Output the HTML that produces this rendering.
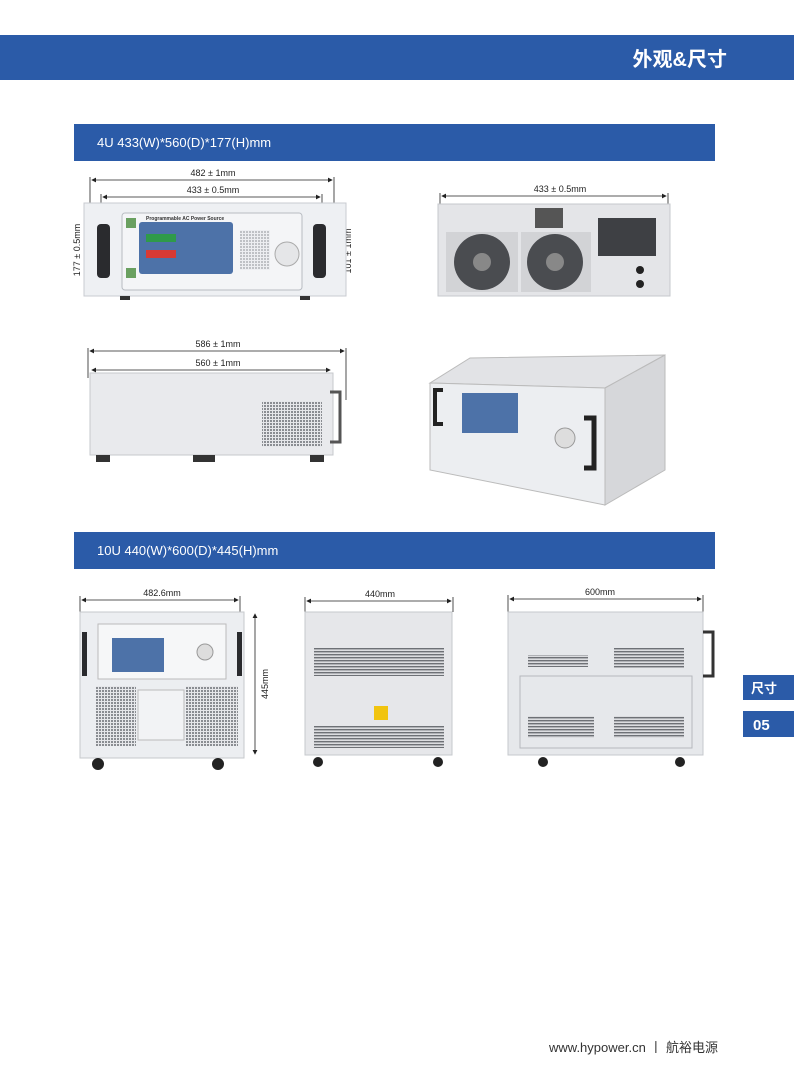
<!DOCTYPE html>
<html><head><meta charset="utf-8"><style>
html,body{margin:0;padding:0;background:#fff}
body{width:794px;height:1077px;position:relative;overflow:hidden;font-family:"Liberation Sans","Noto Sans CJK SC",sans-serif}
svg{position:absolute;left:0;top:0}
</style></head><body>
<svg width="794" height="1077" viewBox="0 0 794 1077" font-family="Liberation Sans, Noto Sans CJK SC, sans-serif">
<defs>
<marker id="a" markerWidth="6" markerHeight="6" refX="5" refY="3" orient="auto-start-reverse"><path d="M0,0 L6,3 L0,6 z" fill="#222"/></marker>
<pattern id="g" width="3" height="3" patternUnits="userSpaceOnUse"><rect width="3" height="3" fill="#e6e7ea"/><rect width="2" height="2" fill="#8a8d92"/></pattern>
<pattern id="h" width="4" height="3" patternUnits="userSpaceOnUse"><rect width="4" height="3" fill="#dcdde0"/><rect width="4" height="1.4" fill="#6e7176"/></pattern>
</defs>
<rect x="0" y="35" width="794" height="45" fill="#2b5ba8"/>
<text x="727" y="66" fill="#fff" font-size="20" font-weight="bold" text-anchor="end">外观&amp;尺寸</text>
<rect x="74" y="124" width="641" height="37" fill="#2b5ba8"/>
<text x="97" y="147" fill="#fff" font-size="13">4U 433(W)*560(D)*177(H)mm</text>
<rect x="74" y="532" width="641" height="37" fill="#2b5ba8"/>
<text x="97" y="555" fill="#fff" font-size="13">10U 440(W)*600(D)*445(H)mm</text>
<rect x="743" y="675" width="51" height="25" fill="#2b5ba8"/>
<text x="751" y="693" fill="#fff" font-size="13" font-weight="bold">尺寸</text>
<rect x="743" y="711" width="51" height="26" fill="#2b5ba8"/>
<text x="753" y="730" fill="#fff" font-size="15" font-weight="bold">05</text>
<text x="549" y="1052" fill="#333" font-size="13">www.hypower.cn  丨 航裕电源</text>

<g stroke="#222" stroke-width="0.8" fill="none">
<line x1="92" y1="180" x2="332" y2="180" marker-start="url(#a)" marker-end="url(#a)"/>
<line x1="103" y1="197" x2="320" y2="197" marker-start="url(#a)" marker-end="url(#a)"/>
<line x1="90" y1="177" x2="90" y2="203"/><line x1="334" y1="177" x2="334" y2="203"/>
<line x1="101" y1="194" x2="101" y2="215"/><line x1="322" y1="194" x2="322" y2="215"/>
<line x1="86" y1="206" x2="86" y2="292" marker-start="url(#a)" marker-end="url(#a)"/>
<line x1="338" y1="226" x2="338" y2="276" marker-start="url(#a)" marker-end="url(#a)"/>
<line x1="442" y1="196" x2="666" y2="196" marker-start="url(#a)" marker-end="url(#a)"/>
<line x1="440" y1="193" x2="440" y2="208"/><line x1="668" y1="193" x2="668" y2="208"/>
<line x1="90" y1="351" x2="344" y2="351" marker-start="url(#a)" marker-end="url(#a)"/>
<line x1="92" y1="370" x2="330" y2="370" marker-start="url(#a)" marker-end="url(#a)"/>
<line x1="88" y1="348" x2="88" y2="378"/><line x1="346" y1="348" x2="346" y2="400"/>
<line x1="82" y1="600" x2="238" y2="600" marker-start="url(#a)" marker-end="url(#a)"/>
<line x1="80" y1="596" x2="80" y2="612"/><line x1="240" y1="596" x2="240" y2="612"/>
<line x1="255" y1="614" x2="255" y2="754" marker-start="url(#a)" marker-end="url(#a)"/>
<line x1="307" y1="601" x2="451" y2="601" marker-start="url(#a)" marker-end="url(#a)"/>
<line x1="305" y1="597" x2="305" y2="612"/><line x1="453" y1="597" x2="453" y2="612"/>
<line x1="510" y1="599" x2="701" y2="599" marker-start="url(#a)" marker-end="url(#a)"/>
<line x1="508" y1="595" x2="508" y2="612"/><line x1="703" y1="595" x2="703" y2="612"/>
</g>
<g font-size="9" fill="#222" text-anchor="middle">
<text x="213" y="176">482 ± 1mm</text>
<text x="213" y="193">433 ± 0.5mm</text>
<text x="560" y="192">433 ± 0.5mm</text>
<text x="218" y="347">586 ± 1mm</text>
<text x="218" y="366">560 ± 1mm</text>
<text x="162" y="596">482.6mm</text>
<text x="380" y="597">440mm</text>
<text x="600" y="595">600mm</text>
<text transform="translate(80,250) rotate(-90)">177 ± 0.5mm</text>
<text transform="translate(351,251) rotate(-90)">101 ± 1mm</text>
<text transform="translate(268,684) rotate(-90)">445mm</text>
</g>

<rect x="84" y="203" width="262" height="93" fill="#eef0f3" stroke="#c8cbd0"/>
<rect x="97" y="224" width="13" height="54" rx="4" fill="#2a2b2e"/>
<rect x="313" y="224" width="13" height="54" rx="4" fill="#2a2b2e"/>
<rect x="122" y="213" width="180" height="77" rx="3" fill="#f4f5f7" stroke="#b8bcc2"/>
<rect x="139" y="222" width="94" height="52" rx="3" fill="#4d72a8"/>
<rect x="146" y="234" width="30" height="8" fill="#2f9a4a"/><rect x="146" y="250" width="30" height="8" fill="#d83a34"/>
<rect x="126" y="218" width="10" height="10" fill="#6aa060"/><rect x="126" y="268" width="10" height="10" fill="#6aa060"/>
<circle cx="287" cy="254" r="12" fill="#e5e6e8" stroke="#aaa"/>
<rect x="240" y="230" width="30" height="40" fill="url(#g)" opacity="0.5"/>
<text x="146" y="220" font-size="5" font-weight="bold" fill="#333">Programmable AC Power Source</text>
<rect x="120" y="296" width="10" height="4" fill="#333"/><rect x="300" y="296" width="10" height="4" fill="#333"/>

<rect x="438" y="204" width="232" height="92" fill="#e4e5e8" stroke="#c6c8cc"/>
<rect x="446" y="232" width="72" height="60" fill="#d2d3d6"/>
<rect x="521" y="232" width="70" height="60" fill="#d2d3d6"/>
<circle cx="482" cy="262" r="28" fill="#4a4c50"/><circle cx="482" cy="262" r="9" fill="#888"/>
<circle cx="555" cy="262" r="28" fill="#4a4c50"/><circle cx="555" cy="262" r="9" fill="#888"/>
<rect x="535" y="208" width="28" height="20" fill="#555"/>
<rect x="598" y="218" width="58" height="38" fill="#3e4044"/>
<circle cx="640" cy="270" r="4" fill="#222"/><circle cx="640" cy="284" r="4" fill="#222"/>

<rect x="90" y="373" width="243" height="82" fill="#e9eaed" stroke="#c6c8cc"/>
<rect x="262" y="401" width="60" height="46" fill="url(#g)"/>
<path d="M330,392 h10 v50 h-10" fill="none" stroke="#555" stroke-width="3"/>
<rect x="96" y="455" width="14" height="7" fill="#333"/><rect x="193" y="455" width="22" height="7" fill="#333"/><rect x="310" y="455" width="14" height="7" fill="#333"/>

<polygon points="430,383 605,388 665,355 470,358" fill="#e2e3e6" stroke="#bbb"/>
<polygon points="605,388 665,355 665,470 605,505" fill="#d6d7da" stroke="#bbb"/>
<polygon points="430,383 605,388 605,505 430,470" fill="#eceef1" stroke="#bbb"/>
<rect x="462" y="393" width="56" height="40" fill="#4d72a8"/>
<circle cx="565" cy="438" r="10" fill="#ddd" stroke="#999"/>
<path d="M584,418 h10 v50 h-10" fill="none" stroke="#222" stroke-width="5"/>
<path d="M443,390 h-8 v34 h8" fill="none" stroke="#222" stroke-width="4"/>

<rect x="80" y="612" width="164" height="146" fill="#eceef1" stroke="#c6c8cc"/>
<rect x="98" y="624" width="128" height="55" fill="#f6f7f8" stroke="#bbb"/>
<rect x="112" y="638" width="52" height="34" fill="#4d72a8"/>
<circle cx="205" cy="652" r="8" fill="#ddd" stroke="#999"/>
<rect x="82" y="632" width="5" height="44" fill="#2a2b2e"/><rect x="237" y="632" width="5" height="44" fill="#2a2b2e"/>
<rect x="96" y="686" width="40" height="60" fill="url(#g)"/>
<rect x="186" y="686" width="52" height="60" fill="url(#g)"/>
<rect x="138" y="690" width="46" height="50" fill="#f2f3f5" stroke="#bbb"/>
<circle cx="98" cy="764" r="6" fill="#222"/><circle cx="218" cy="764" r="6" fill="#222"/>

<rect x="305" y="612" width="147" height="143" fill="#e6e7ea" stroke="#c6c8cc"/>
<rect x="314" y="648" width="130" height="28" fill="url(#h)"/>
<rect x="314" y="726" width="130" height="22" fill="url(#h)"/>
<rect x="374" y="706" width="14" height="14" fill="#f1c40f"/>
<circle cx="318" cy="762" r="5" fill="#222"/><circle cx="438" cy="762" r="5" fill="#222"/>

<rect x="508" y="612" width="195" height="143" fill="#e6e8eb" stroke="#c6c8cc"/>
<rect x="520" y="676" width="172" height="72" fill="none" stroke="#b5b8bd"/>
<rect x="528" y="655" width="60" height="12" fill="url(#h)"/>
<rect x="614" y="648" width="70" height="20" fill="url(#h)"/>
<rect x="528" y="716" width="66" height="22" fill="url(#h)"/>
<rect x="614" y="716" width="70" height="22" fill="url(#h)"/>
<path d="M703,632 h10 v44 h-10" fill="none" stroke="#333" stroke-width="3"/>
<circle cx="543" cy="762" r="5" fill="#222"/><circle cx="680" cy="762" r="5" fill="#222"/>
</svg>
</body></html>
